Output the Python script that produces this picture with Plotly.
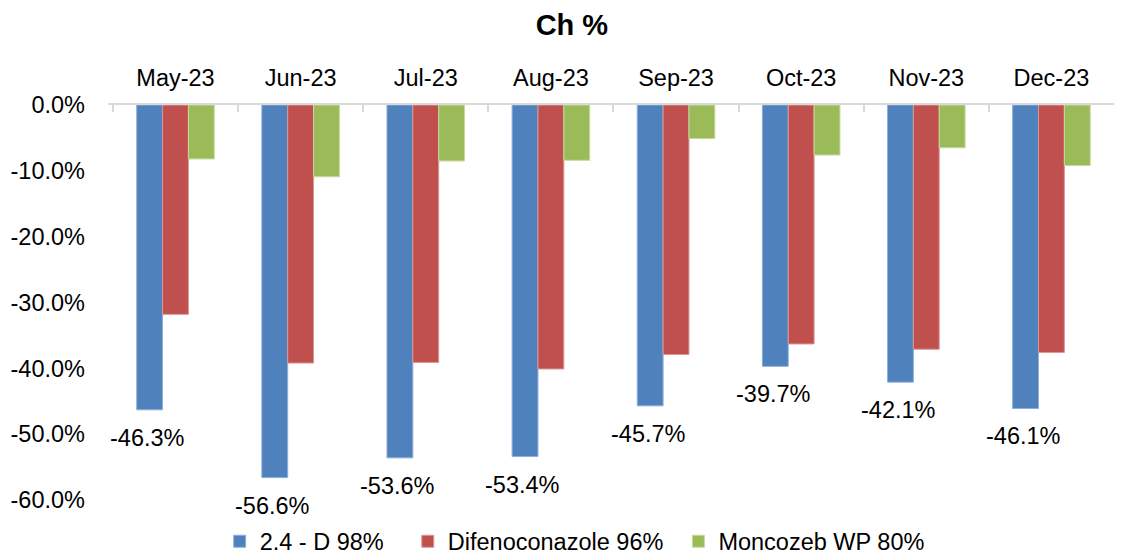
import plotly.graph_objects as go

months = ["May-23", "Jun-23", "Jul-23", "Aug-23", "Sep-23", "Oct-23", "Nov-23", "Dec-23"]
d24 = [-46.3, -56.6, -53.6, -53.4, -45.7, -39.7, -42.1, -46.1]
difeno = [-31.8, -39.2, -39.1, -40.1, -37.9, -36.3, -37.1, -37.6]
moncozeb = [-8.2, -10.9, -8.5, -8.4, -5.1, -7.6, -6.5, -9.2]
yticks = [0, -10, -20, -30, -40, -50, -60]

FONT = "Liberation Sans, Arial, sans-serif"
FS = 23.5

fig = go.Figure()
fig.add_trace(go.Bar(
    x=months, y=d24, name="2.4 - D 98%", legend="legend",
    marker=dict(color="#4F81BD", line=dict(color="#8EAEDB", width=1)),
))
fig.add_trace(go.Bar(
    x=months, y=difeno, name="Difenoconazole 96%", legend="legend2",
    marker=dict(color="#C0504D", line=dict(color="#DC9795", width=1)),
))
fig.add_trace(go.Bar(
    x=months, y=moncozeb, name="Moncozeb WP 80%", legend="legend3",
    marker=dict(color="#9BBB59", line=dict(color="#C6DA9E", width=1)),
))

# data labels for the first series, below the end of each blue bar
for m, v in zip(months, d24):
    fig.add_annotation(
        x=m, y=v, text=f"{v:.1f}%", showarrow=False,
        xshift=-28, yshift=-28, xanchor="center", yanchor="middle",
        font=dict(size=FS, family=FONT, color="#000000"),
    )

leg = dict(orientation="h", yanchor="middle", y=-0.105, xanchor="left",
           font=dict(size=FS, family=FONT), itemwidth=30, bgcolor="rgba(0,0,0,0)")

fig.update_layout(
    width=1128, height=556,
    margin=dict(l=108, r=14, t=105, b=56, autoexpand=False),
    paper_bgcolor="white", plot_bgcolor="white",
    barmode="group", bargap=0.38, bargroupgap=0,
    font=dict(family=FONT, size=FS, color="#000000"),
    title=dict(text="<b>Ch %</b>", x=0.507, xanchor="center", y=0.955, yanchor="middle",
               font=dict(size=29, family=FONT, color="#000000")),
    legend=dict(leg, x=0.111),
    legend2=dict(leg, x=0.298),
    legend3=dict(leg, x=0.567),
    showlegend=True,
)
fig.update_xaxes(
    side="top", showline=True, linecolor="#D9D9D9", linewidth=2,
    ticks="inside", ticklen=7, tickcolor="#D9D9D9", tickwidth=2,
    tickson="boundaries", showgrid=False, zeroline=False, automargin=False,
    ticklabelstandoff=8,
    tickfont=dict(size=FS, family=FONT),
)
fig.update_yaxes(
    range=[-60, 0], tickvals=yticks, ticktext=[f"{v:.1f}%" for v in yticks],
    showgrid=False, zeroline=False, showline=False, automargin=False,
    ticks="", ticklabelstandoff=22,
    tickfont=dict(size=FS, family=FONT),
)

fig.write_html(
    "out.html",
    config={"displayModeBar": False},
    post_script="document.body.style.margin='0';document.body.style.overflow='hidden';",
)
